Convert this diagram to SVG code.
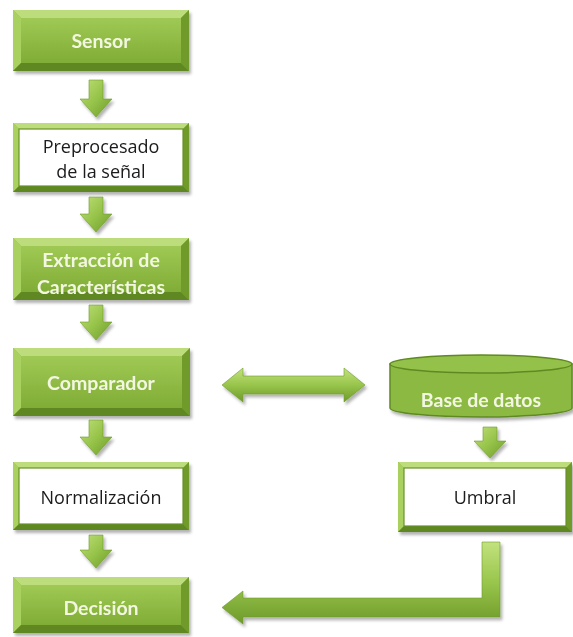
<svg xmlns="http://www.w3.org/2000/svg" width="573" height="637" viewBox="0 0 573 637">
<defs>
<linearGradient id="gBody" x1="0" y1="0" x2="0" y2="1">
<stop offset="0" stop-color="#9fc954"/>
<stop offset="1" stop-color="#80ad36"/>
</linearGradient>
<linearGradient id="gArrow" x1="0" y1="0" x2="1" y2="1">
<stop offset="0" stop-color="#bfe07a"/>
<stop offset="0.5" stop-color="#97c44a"/>
<stop offset="1" stop-color="#6f9c2a"/>
</linearGradient>
<linearGradient id="gArrowH" x1="0" y1="0" x2="0" y2="1">
<stop offset="0" stop-color="#c2e27e"/>
<stop offset="0.5" stop-color="#98c54b"/>
<stop offset="1" stop-color="#6e9a2a"/>
</linearGradient>
<filter id="sh" x="-10%" y="-10%" width="130%" height="140%">
<feDropShadow dx="2" dy="3" stdDeviation="1.8" flood-color="#000" flood-opacity="0.3"/>
</filter>
</defs>
<style>
.base{fill:#8cb943;}
.bt{fill:#bddc7c;}
.bl{fill:#a8d160;}
.br{fill:#6f9a2b;}
.bb{fill:#5e8722;}
.inner{fill:url(#gBody);}
.white{fill:#ffffff;stroke:#6a9228;stroke-width:1.2;}
.gt{font-family:Lato,"Open Sans","Noto Sans",sans-serif;font-weight:bold;font-size:19.5px;fill:#f3f7e2;text-anchor:middle;dominant-baseline:central;}
.dt{font-family:"Open Sans","Noto Sans",sans-serif;font-size:18px;fill:#1a1a1a;text-anchor:middle;dominant-baseline:central;}
.arr{fill:url(#gArrow);stroke:#6f9a2b;stroke-width:0.6;filter:url(#sh);}
.arrh{fill:url(#gArrowH);stroke:#6f9a2b;stroke-width:0.6;filter:url(#sh);}
.cyl{fill:#8cb943;stroke:#5f8a22;stroke-width:1.5;}
</style>

<g id="sensor" filter="url(#sh)">
<rect class="base" x="13" y="10" width="176" height="61"/>
<polygon class="bt" points="13,10 189,10 181,18 21,18"/>
<polygon class="bl" points="13,10 21,18 21,63 13,71"/>
<polygon class="br" points="189,10 181,18 181,63 189,71"/>
<polygon class="bb" points="13,71 189,71 181,63 21,63"/>
<rect class="inner" x="21" y="18" width="160" height="45"/>
<text class="gt" x="101" y="40.5">Sensor</text>
</g>

<g id="preprocesado" filter="url(#sh)">
<rect class="base" x="13" y="123" width="176" height="69"/>
<polygon class="bt" points="13,123 189,123 183,129 19,129"/>
<polygon class="bl" points="13,123 19,129 19,186 13,192"/>
<polygon class="br" points="189,123 183,129 183,186 189,192"/>
<polygon class="bb" points="13,192 189,192 183,186 19,186"/>
<rect class="white" x="19" y="129" width="164" height="57"/>
<text class="dt" x="101" y="146">Preprocesado</text>
<text class="dt" x="101" y="171">de la señal</text>
</g>

<g id="extraccion" filter="url(#sh)">
<rect class="base" x="13" y="238" width="176" height="62"/>
<polygon class="bt" points="13,238 189,238 181,246 21,246"/>
<polygon class="bl" points="13,238 21,246 21,292 13,300"/>
<polygon class="br" points="189,238 181,246 181,292 189,300"/>
<polygon class="bb" points="13,300 189,300 181,292 21,292"/>
<rect class="inner" x="21" y="246" width="160" height="46"/>
<text class="gt" x="101" y="259">Extracción de</text>
<text class="gt" x="101" y="286">Características</text>
</g>

<g id="comparador" filter="url(#sh)">
<rect class="base" x="13" y="348" width="177" height="68"/>
<polygon class="bt" points="13,348 190,348 182,356 21,356"/>
<polygon class="bl" points="13,348 21,356 21,408 13,416"/>
<polygon class="br" points="190,348 182,356 182,408 190,416"/>
<polygon class="bb" points="13,416 190,416 182,408 21,408"/>
<rect class="inner" x="21" y="356" width="161" height="52"/>
<text class="gt" x="101" y="382">Comparador</text>
</g>

<g id="normalizacion" filter="url(#sh)">
<rect class="base" x="13" y="462" width="176" height="68"/>
<polygon class="bt" points="13,462 189,462 183,468 19,468"/>
<polygon class="bl" points="13,462 19,468 19,524 13,530"/>
<polygon class="br" points="189,462 183,468 183,524 189,530"/>
<polygon class="bb" points="13,530 189,530 183,524 19,524"/>
<rect class="white" x="19" y="468" width="164" height="56"/>
<text class="dt" x="101" y="497">Normalización</text>
</g>

<g id="decision" filter="url(#sh)">
<rect class="base" x="13" y="577" width="176" height="56"/>
<polygon class="bt" points="13,577 189,577 181,585 21,585"/>
<polygon class="bl" points="13,577 21,585 21,625 13,633"/>
<polygon class="br" points="189,577 181,585 181,625 189,633"/>
<polygon class="bb" points="13,633 189,633 181,625 21,625"/>
<rect class="inner" x="21" y="585" width="160" height="40"/>
<text class="gt" x="101" y="607">Decisión</text>
</g>

<g id="basedatos" filter="url(#sh)">
<path class="cyl" d="M390,364 L390,408 A91,9 0 0 0 572,408 L572,364 Z"/>
<ellipse class="cyl" cx="481" cy="364" rx="91" ry="9" style="fill:#94c14a"/>
<text class="gt" x="481" y="399">Base de datos</text>
</g>

<g id="umbral" filter="url(#sh)">
<rect class="base" x="398" y="462" width="174" height="70"/>
<polygon class="bt" points="398,462 572,462 566,468 404,468"/>
<polygon class="bl" points="398,462 404,468 404,526 398,532"/>
<polygon class="br" points="572,462 566,468 566,526 572,532"/>
<polygon class="bb" points="398,532 572,532 566,526 404,526"/>
<rect class="white" x="404" y="468" width="162" height="58"/>
<text class="dt" x="485" y="497">Umbral</text>
</g>

<g id="connectors">
<path class="arr" d="M89,80 L103,80 L103,99 L112,99 L96,117 L80,99 L89,99 Z"/>
<path class="arr" d="M89,197 L103,197 L103,214 L112,214 L96,232 L80,214 L89,214 Z"/>
<path class="arr" d="M89,305 L103,305 L103,322 L112,322 L96,340 L80,322 L89,322 Z"/>
<path class="arr" d="M89,420 L103,420 L103,437 L112,437 L96,455 L80,437 L89,437 Z"/>
<path class="arr" d="M89,535 L103,535 L103,550 L112,550 L96,568 L80,550 L89,550 Z"/>
<path class="arr" d="M483,427 L497,427 L497,441 L506,441 L490,458 L474,441 L483,441 Z"/>
<path class="arrh" d="M222,385 L243,368 L243,376 L344,376 L344,368 L365,385 L344,402 L344,394 L243,394 L243,402 Z"/>
<path class="arrh" d="M222,607.5 L243,591 L243,598 L482,598 L482,542 L500,542 L500,617 L243,617 L243,624 Z"/>
</g>
</svg>
